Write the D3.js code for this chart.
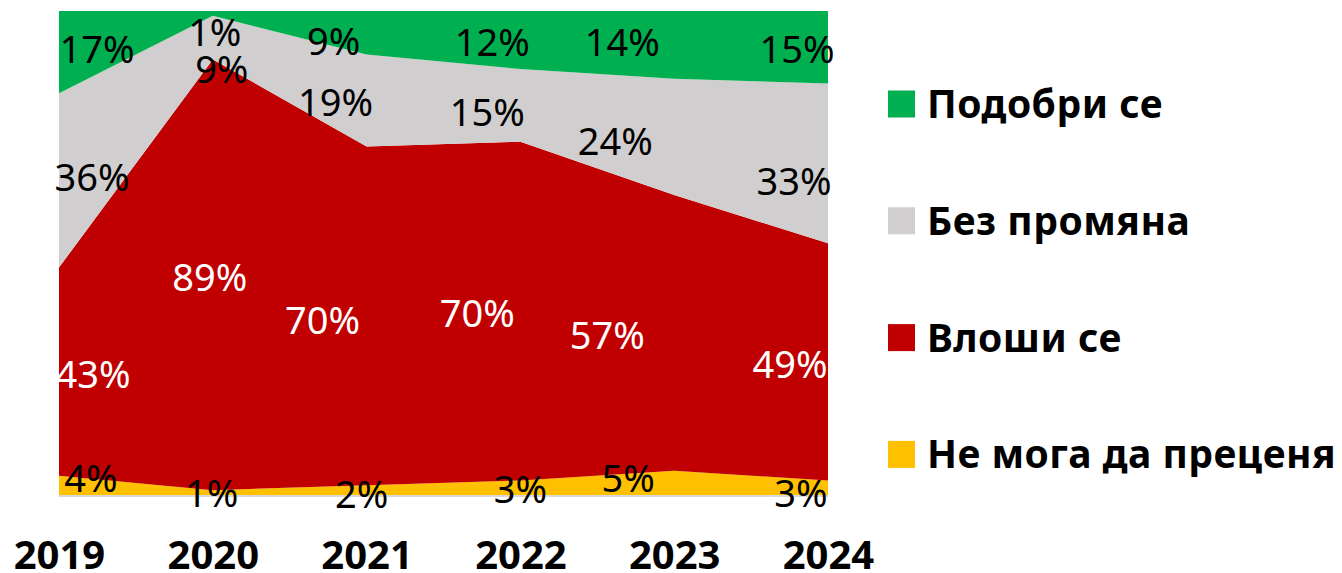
<!DOCTYPE html>
<html>
<head>
<meta charset="utf-8">
<script src="https://cdn.jsdelivr.net/npm/d3@7"></script>
<style>
  html, body { margin: 0; padding: 0; background: #fff; }
  svg { display: block; font-family: "Noto Sans", "Open Sans", sans-serif; }
</style>
</head>
<body>
<svg id="chart" width="1342" height="573"></svg>
<script>
const years = ["2019", "2020", "2021", "2022", "2023", "2024"];

const improved = [17, 1, 9, 12, 14, 15];
const unchanged = [36, 9, 19, 15, 24, 33];
const worse = [43, 89, 70, 70, 57, 49];
const cantSay = [4, 1, 2, 3, 5, 3];

const seriesNames = ["Подобри се", "Без промяна", "Влоши се", "Не мога да преценя"];

// bottom-to-top stacking order
const series = [
  { key: "cantSay", name: seriesNames[3], values: cantSay, color: "#FFC000", text: "#000" },
  { key: "worse", name: seriesNames[2], values: worse, color: "#C00000", text: "#fff" },
  { key: "unchanged", name: seriesNames[1], values: unchanged, color: "#D0CECE", text: "#000" },
  { key: "improved", name: seriesNames[0], values: improved, color: "#00B050", text: "#000" }
];

// label nudges (dx, dy) per series/year, mimicking the original placement
const labelNudge = {
  improved: [[38, -3], [2, 19], [-33, 9], [-28, 2], [-52, -3], [-31, 2]],
  unchanged: [[33, -3], [9, 32], [-31, 2], [-33, 7], [-59, 4], [-34, 18]],
  worse: [[34, 3], [-3, 3], [-44, 4], [-43, 2], [-67, 2], [-38, 2]],
  cantSay: [[32, -7], [-1, 1], [-5, 4], [0, 2], [-46, -5], [-27, 6]]
};

function drawChart() {

  const rows =
    years.map((yr, i) => {
      const row = { year: yr };
      series.forEach(s => { row[s.key] = s.values[i]; });
      return row;
    });

  const stacked =
    d3.stack()
      .keys(series.map(s => s.key))(rows);

  const plotLeft = 59, plotRight = 828, plotTop = 11, plotBottom = 495;

  const x =
    d3.scalePoint()
      .domain(years)
      .range([plotLeft, plotRight]);

  const y =
    d3.scaleLinear()
      .domain([0, 100])
      .range([plotBottom, plotTop]);

  const svg = d3.select("#chart");

  const area =
    d3.area()
      .x(d => x(d.data.year))
      .y0(d => y(d[0]))
      .y1(d => y(d[1]));

  svg.append("g")
    .selectAll("path")
    .data(stacked)
    .enter()
    .append("path")
    .attr("d", area)
    .attr("fill", (d, i) => series[i].color);

  // baseline
  svg.append("line")
    .attr("x1", plotLeft)
    .attr("x2", plotRight)
    .attr("y1", plotBottom + 1)
    .attr("y2", plotBottom + 1)
    .attr("stroke", "#D9D9D9")
    .attr("stroke-width", 2);

  // data labels
  const labels = svg.append("g");

  stacked.forEach((layer, i) => {
    const s = series[i];
    layer.forEach((d, j) => {
      const nudge = labelNudge[s.key][j];
      labels.append("text")
        .attr("x", x(d.data.year) + nudge[0])
        .attr("y", y((d[0] + d[1]) / 2) + nudge[1])
        .attr("dy", "0.36em")
        .attr("text-anchor", "middle")
        .attr("font-size", 38)
        .attr("fill", s.text)
        .text(d.data[s.key] + "%");
    });
  });

  // x axis labels
  const xAxis =
    svg.append("g")
      .attr("transform", `translate(0,${plotBottom})`)
      .call(
        d3.axisBottom(x)
          .tickSize(0)
          .tickPadding(0)
      );

  xAxis.select(".domain").remove();

  xAxis.selectAll("text")
    .attr("y", 74)
    .attr("dy", 0)
    .attr("font-family", "\"Noto Sans\", \"Open Sans\", sans-serif")
    .attr("font-size", 40)
    .attr("font-weight", "bold")
    .attr("fill", "#000");

  // legend
  const legendOrder = [series[3], series[2], series[1], series[0]];

  const legend =
    svg.append("g")
      .selectAll("g")
      .data(legendOrder)
      .enter()
      .append("g")
      .attr("transform", (d, i) => `translate(888,${104 + i * 116.8})`);

  legend.append("rect")
    .attr("x", 0)
    .attr("y", -13.5)
    .attr("width", 27)
    .attr("height", 27)
    .attr("fill", d => d.color);

  legend.append("text")
    .attr("x", 39)
    .attr("y", 14)
    .attr("font-size", 39)
    .attr("font-weight", "bold")
    .attr("letter-spacing", 0.5)
    .attr("fill", "#000")
    .text(d => d.name);
}

drawChart();
</script>
</body>
</html>
